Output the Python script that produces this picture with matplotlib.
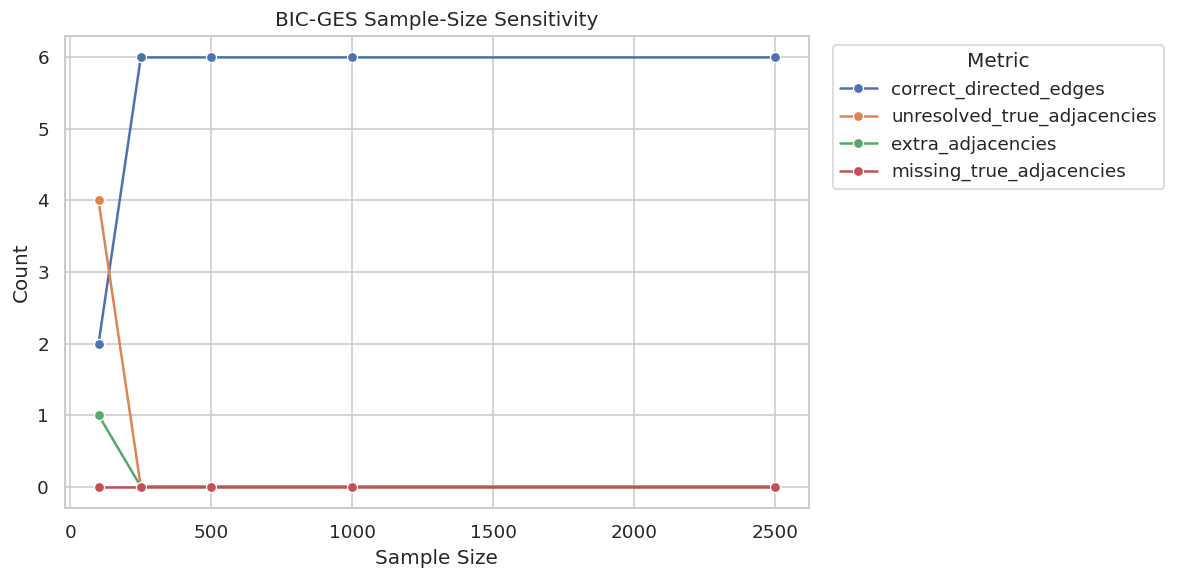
import matplotlib
matplotlib.use("Agg")
import matplotlib.pyplot as plt
import seaborn as sns
import pandas as pd

sample_sizes = [100, 250, 500, 1000, 2500]
metrics = [
    "correct_directed_edges",
    "unresolved_true_adjacencies",
    "extra_adjacencies",
    "missing_true_adjacencies",
]
correct_directed_edges = [2, 6, 6, 6, 6]
unresolved_true_adjacencies = [4, 0, 0, 0, 0]
extra_adjacencies = [1, 0, 0, 0, 0]
missing_true_adjacencies = [0, 0, 0, 0, 0]


def main():
    sns.set_theme(style="whitegrid")

    values = [
        correct_directed_edges,
        unresolved_true_adjacencies,
        extra_adjacencies,
        missing_true_adjacencies,
    ]
    rows = []
    for name, vals in zip(metrics, values):
        for n, v in zip(sample_sizes, vals):
            rows.append({"Sample Size": n, "Metric": name, "Count": v})
    df = pd.DataFrame(rows)

    fig, ax = plt.subplots(figsize=(1177 / 120, 580 / 120), dpi=120)
    sns.lineplot(data=df, x="Sample Size", y="Count", hue="Metric",
                 marker="o", ax=ax)
    ax.set_title("BIC-GES Sample-Size Sensitivity")
    ax.legend(title="Metric", loc="upper left", bbox_to_anchor=(1.02, 1))
    fig.subplots_adjust(left=0.055, right=0.687, top=0.938, bottom=0.124)
    fig.savefig("out.png")


if __name__ == "__main__":
    main()
